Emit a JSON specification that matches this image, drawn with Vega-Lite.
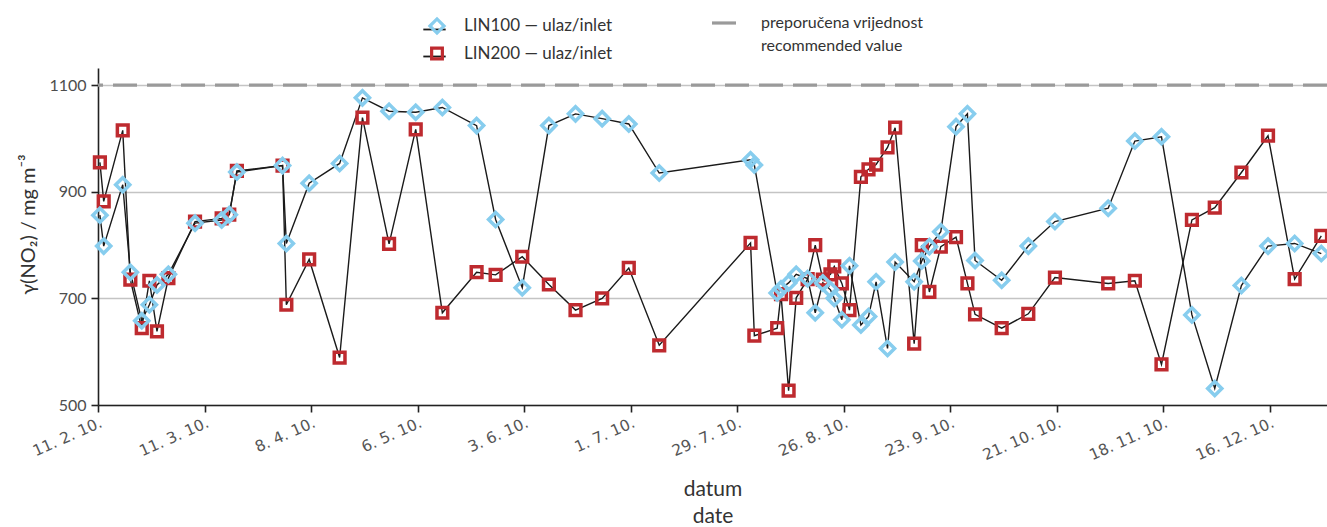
{
  "$schema": "https://vega.github.io/schema/vega-lite/v6.json",
  "width": 1229,
  "height": 337,
  "autosize": {"type": "none"},
  "padding": {"left": 98, "top": 68, "right": 0, "bottom": 122},
  "background": "white",
  "config": {
    "font": "Lato",
    "view": {"stroke": null},
    "style": {"guide-label": {"lineHeight": 23}},
    "axis": {"labelFont": "Lato", "titleFont": "Lato", "labelColor": "#4d4d4d", "titleColor": "#333333", "titleFontWeight": "normal", "domainColor": "#222222", "domainWidth": 1.6, "tickColor": "#222222", "tickWidth": 1.6, "tickSize": 7, "labelFontSize": 16, "titleFontSize": 20},
    "legend": {"labelFont": "Lato", "labelFontSize": 17, "labelColor": "#333333", "labelLimit": 400}
  },
  "datasets": {
    "obs": [
      {"date": "2010-02-11T12:00", "LIN100 — ulaz/inlet": 856, "LIN200 — ulaz/inlet": 955},
      {"date": "2010-02-12T12:00", "LIN100 — ulaz/inlet": 798, "LIN200 — ulaz/inlet": 882},
      {"date": "2010-02-17T12:00", "LIN100 — ulaz/inlet": 913, "LIN200 — ulaz/inlet": 1015},
      {"date": "2010-02-19T12:00", "LIN100 — ulaz/inlet": 749, "LIN200 — ulaz/inlet": 735},
      {"date": "2010-02-22T12:00", "LIN100 — ulaz/inlet": 658, "LIN200 — ulaz/inlet": 644},
      {"date": "2010-02-24T12:00", "LIN100 — ulaz/inlet": 688, "LIN200 — ulaz/inlet": 733},
      {"date": "2010-02-26T12:00", "LIN100 — ulaz/inlet": 725, "LIN200 — ulaz/inlet": 638},
      {"date": "2010-03-01T12:00", "LIN100 — ulaz/inlet": 745, "LIN200 — ulaz/inlet": 738},
      {"date": "2010-03-08T12:00", "LIN100 — ulaz/inlet": 841, "LIN200 — ulaz/inlet": 844},
      {"date": "2010-03-15T12:00", "LIN100 — ulaz/inlet": 847, "LIN200 — ulaz/inlet": 850},
      {"date": "2010-03-17T12:00", "LIN100 — ulaz/inlet": 857, "LIN200 — ulaz/inlet": 857},
      {"date": "2010-03-19T12:00", "LIN100 — ulaz/inlet": 937, "LIN200 — ulaz/inlet": 939},
      {"date": "2010-03-31T12:00", "LIN100 — ulaz/inlet": 949, "LIN200 — ulaz/inlet": 949},
      {"date": "2010-04-01T12:00", "LIN100 — ulaz/inlet": 803, "LIN200 — ulaz/inlet": 688},
      {"date": "2010-04-07T12:00", "LIN100 — ulaz/inlet": 916, "LIN200 — ulaz/inlet": 773},
      {"date": "2010-04-15T12:00", "LIN100 — ulaz/inlet": 953, "LIN200 — ulaz/inlet": 589},
      {"date": "2010-04-21T12:00", "LIN100 — ulaz/inlet": 1076, "LIN200 — ulaz/inlet": 1039},
      {"date": "2010-04-28T12:00", "LIN100 — ulaz/inlet": 1051, "LIN200 — ulaz/inlet": 802},
      {"date": "2010-05-05T12:00", "LIN100 — ulaz/inlet": 1049, "LIN200 — ulaz/inlet": 1017},
      {"date": "2010-05-12T12:00", "LIN100 — ulaz/inlet": 1058, "LIN200 — ulaz/inlet": 673},
      {"date": "2010-05-21T12:00", "LIN100 — ulaz/inlet": 1024, "LIN200 — ulaz/inlet": 749},
      {"date": "2010-05-26T12:00", "LIN100 — ulaz/inlet": 848, "LIN200 — ulaz/inlet": 744},
      {"date": "2010-06-02T12:00", "LIN100 — ulaz/inlet": 720, "LIN200 — ulaz/inlet": 778},
      {"date": "2010-06-09T12:00", "LIN100 — ulaz/inlet": 1024, "LIN200 — ulaz/inlet": 726},
      {"date": "2010-06-16T12:00", "LIN100 — ulaz/inlet": 1046, "LIN200 — ulaz/inlet": 678},
      {"date": "2010-06-23T12:00", "LIN100 — ulaz/inlet": 1037, "LIN200 — ulaz/inlet": 700},
      {"date": "2010-06-30T12:00", "LIN100 — ulaz/inlet": 1027, "LIN200 — ulaz/inlet": 757},
      {"date": "2010-07-08T12:00", "LIN100 — ulaz/inlet": 935, "LIN200 — ulaz/inlet": 612},
      {"date": "2010-08-01T12:00", "LIN100 — ulaz/inlet": 960, "LIN200 — ulaz/inlet": 804},
      {"date": "2010-08-02T12:00", "LIN100 — ulaz/inlet": 950, "LIN200 — ulaz/inlet": 630},
      {"date": "2010-08-08T12:00", "LIN100 — ulaz/inlet": 710, "LIN200 — ulaz/inlet": 644},
      {"date": "2010-08-09T12:00", "LIN100 — ulaz/inlet": 718, "LIN200 — ulaz/inlet": 708},
      {"date": "2010-08-11T12:00", "LIN100 — ulaz/inlet": 729, "LIN200 — ulaz/inlet": 527},
      {"date": "2010-08-13T12:00", "LIN100 — ulaz/inlet": 745, "LIN200 — ulaz/inlet": 701},
      {"date": "2010-08-16T12:00", "LIN100 — ulaz/inlet": 737, "LIN200 — ulaz/inlet": 736},
      {"date": "2010-08-18T12:00", "LIN100 — ulaz/inlet": 673, "LIN200 — ulaz/inlet": 800},
      {"date": "2010-08-20T12:00", "LIN100 — ulaz/inlet": 729, "LIN200 — ulaz/inlet": 735},
      {"date": "2010-08-22T12:00", "LIN100 — ulaz/inlet": 716, "LIN200 — ulaz/inlet": 745},
      {"date": "2010-08-23T12:00", "LIN100 — ulaz/inlet": 700, "LIN200 — ulaz/inlet": 760},
      {"date": "2010-08-25T12:00", "LIN100 — ulaz/inlet": 660, "LIN200 — ulaz/inlet": 728},
      {"date": "2010-08-27T12:00", "LIN100 — ulaz/inlet": 761, "LIN200 — ulaz/inlet": 678},
      {"date": "2010-08-30T12:00", "LIN100 — ulaz/inlet": 650, "LIN200 — ulaz/inlet": 928},
      {"date": "2010-09-01T12:00", "LIN100 — ulaz/inlet": 666, "LIN200 — ulaz/inlet": 942},
      {"date": "2010-09-03T12:00", "LIN100 — ulaz/inlet": 731, "LIN200 — ulaz/inlet": 951},
      {"date": "2010-09-06T12:00", "LIN100 — ulaz/inlet": 606, "LIN200 — ulaz/inlet": 983},
      {"date": "2010-09-08T12:00", "LIN100 — ulaz/inlet": 768, "LIN200 — ulaz/inlet": 1020},
      {"date": "2010-09-13T12:00", "LIN100 — ulaz/inlet": 731, "LIN200 — ulaz/inlet": 615},
      {"date": "2010-09-15T12:00", "LIN100 — ulaz/inlet": 770, "LIN200 — ulaz/inlet": 800},
      {"date": "2010-09-17T12:00", "LIN100 — ulaz/inlet": 797, "LIN200 — ulaz/inlet": 712},
      {"date": "2010-09-20T12:00", "LIN100 — ulaz/inlet": 825, "LIN200 — ulaz/inlet": 797},
      {"date": "2010-09-24T12:00", "LIN100 — ulaz/inlet": 1022, "LIN200 — ulaz/inlet": 815},
      {"date": "2010-09-27T12:00", "LIN100 — ulaz/inlet": 1046, "LIN200 — ulaz/inlet": 728},
      {"date": "2010-09-29T12:00", "LIN100 — ulaz/inlet": 771, "LIN200 — ulaz/inlet": 670},
      {"date": "2010-10-06T12:00", "LIN100 — ulaz/inlet": 734, "LIN200 — ulaz/inlet": 644},
      {"date": "2010-10-13T12:00", "LIN100 — ulaz/inlet": 798, "LIN200 — ulaz/inlet": 671},
      {"date": "2010-10-20T12:00", "LIN100 — ulaz/inlet": 844, "LIN200 — ulaz/inlet": 739},
      {"date": "2010-11-03T12:00", "LIN100 — ulaz/inlet": 869, "LIN200 — ulaz/inlet": 728},
      {"date": "2010-11-10T12:00", "LIN100 — ulaz/inlet": 995, "LIN200 — ulaz/inlet": 733},
      {"date": "2010-11-17T12:00", "LIN100 — ulaz/inlet": 1003, "LIN200 — ulaz/inlet": 576},
      {"date": "2010-11-25T12:00", "LIN100 — ulaz/inlet": 669, "LIN200 — ulaz/inlet": 847},
      {"date": "2010-12-01T12:00", "LIN100 — ulaz/inlet": 531, "LIN200 — ulaz/inlet": 870},
      {"date": "2010-12-08T12:00", "LIN100 — ulaz/inlet": 724, "LIN200 — ulaz/inlet": 936},
      {"date": "2010-12-15T12:00", "LIN100 — ulaz/inlet": 798, "LIN200 — ulaz/inlet": 1005},
      {"date": "2010-12-22T12:00", "LIN100 — ulaz/inlet": 803, "LIN200 — ulaz/inlet": 736},
      {"date": "2010-12-29T12:00", "LIN100 — ulaz/inlet": 784, "LIN200 — ulaz/inlet": 817}
    ],
    "ref": [{"value": 1100, "label": "preporučena vrijednost\nrecommended value"}]
  },
  "layer": [
    {
      "data": {"name": "ref"},
      "mark": {"type": "rule", "color": "#9a9a9a", "strokeWidth": 3.2},
      "encoding": {
        "y": {"field": "value", "type": "quantitative", "scale": {"domain": [500, 1132], "nice": false, "zero": false}},
        "strokeDash": {
          "field": "label", "type": "nominal",
          "scale": {"range": [[24, 10]]},
          "legend": {"title": null, "orient": "none", "legendX": 612, "legendY": -63, "symbolType": "stroke", "symbolStrokeColor": "#9a9a9a", "symbolStrokeWidth": 3.2, "symbolSize": 1024, "labelExpr": "split(datum.label, '\\n')", "labelOffset": 15, "labelFontSize": 16}
        }
      }
    },
    {
      "data": {"name": "obs"},
      "transform": [{"fold": ["LIN100 — ulaz/inlet", "LIN200 — ulaz/inlet"], "as": ["lseries", "conc"]}],
      "mark": {"type": "line", "color": "#1a1a1a", "strokeWidth": 1.4},
      "encoding": {
        "x": {"field": "date", "type": "temporal"},
        "y": {"field": "conc", "type": "quantitative"},
        "detail": {"field": "lseries"},
        "opacity": {"field": "lseries", "type": "nominal", "scale": {"range": [1, 1]}, "legend": {"title": null, "orient": "none", "legendX": 324, "legendY": -51, "rowPadding": 6, "symbolType": "stroke", "symbolStrokeColor": "#1a1a1a", "symbolStrokeWidth": 1.8, "symbolSize": 500, "labelExpr": "''", "labelOffset": 0}}
      }
    },
    {
      "data": {"name": "obs"},
      "transform": [{"fold": ["LIN100 — ulaz/inlet", "LIN200 — ulaz/inlet"], "as": ["series", "conc"]}],
      "mark": {"type": "point", "filled": false, "strokeWidth": 3.5, "opacity": 1},
      "encoding": {
        "x": {
          "field": "date", "type": "temporal",
          "scale": {"domain": [{"year": 2010, "month": 2, "date": 11}, {"year": 2010, "month": 12, "date": 31}]},
          "axis": {
            "title": ["datum", "date"], "titlePadding": 15, "titleLineHeight": 27,
            "values": [
              {"year": 2010, "month": 2, "date": 11}, {"year": 2010, "month": 3, "date": 11},
              {"year": 2010, "month": 4, "date": 8}, {"year": 2010, "month": 5, "date": 6},
              {"year": 2010, "month": 6, "date": 3}, {"year": 2010, "month": 7, "date": 1},
              {"year": 2010, "month": 7, "date": 29}, {"year": 2010, "month": 8, "date": 26},
              {"year": 2010, "month": 9, "date": 23}, {"year": 2010, "month": 10, "date": 21},
              {"year": 2010, "month": 11, "date": 18}, {"year": 2010, "month": 12, "date": 16}
            ],
            "format": "%-d. %-m. %y.", "labelFont": "DejaVu Sans", "labelAngle": -24, "labelAlign": "right", "labelBaseline": "top", "labelFontSize": 15.5, "labelColor": "#555555", "grid": false, "labelPadding": 3, "titleFontSize": 21
          }
        },
        "y": {
          "field": "conc", "type": "quantitative",
          "scale": {"domain": [500, 1132], "nice": false, "zero": false},
          "axis": {"title": "γ(NO₂) / mg m⁻³", "titleY": 156, "values": [500, 700, 900, 1100], "format": "d", "grid": true, "gridColor": "#c4c4c4", "gridWidth": 1.5, "titlePadding": 10, "labelPadding": 5}
        },
        "shape": {"field": "series", "type": "nominal", "scale": {"range": ["diamond", "square"]}, "legend": {"title": null, "orient": "none", "legendX": 330, "legendY": -51, "rowPadding": 1, "symbolStrokeWidth": 3.2, "labelOffset": 18}},
        "color": {"field": "series", "type": "nominal", "scale": {"range": ["#87cdee", "#be2a2f"]}},
        "size": {"field": "series", "type": "nominal", "scale": {"range": [200, 115]}},
        "order": {"field": "series", "sort": "descending"}
      }
    }
  ]
}
